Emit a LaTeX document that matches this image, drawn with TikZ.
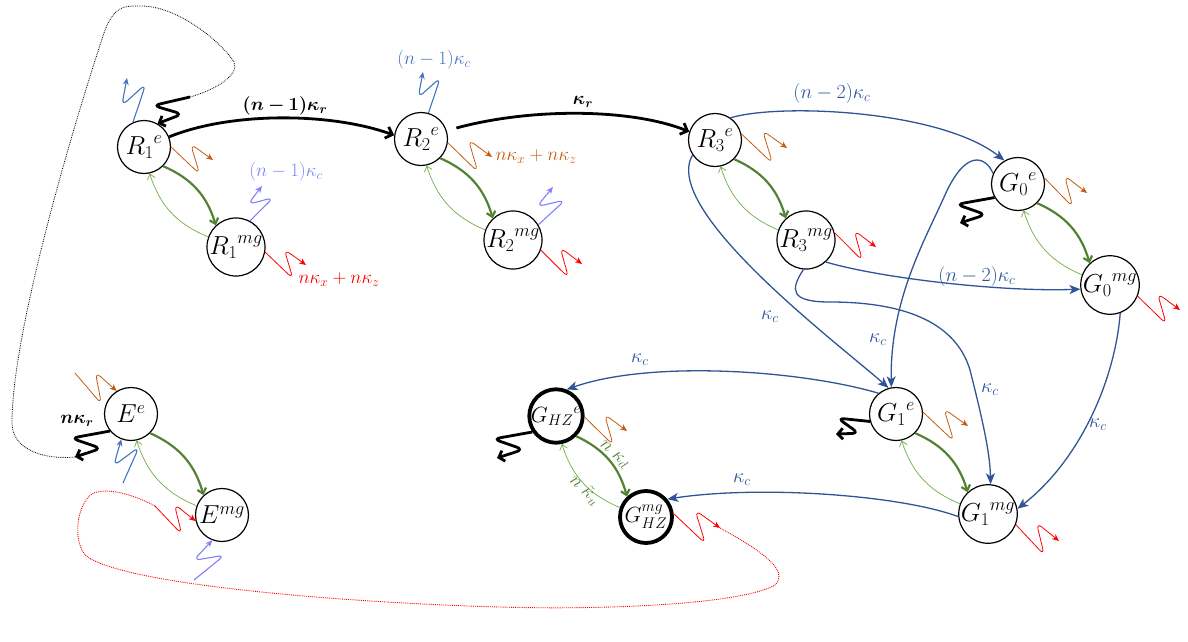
\RequirePackage{fix-cm}
\documentclass[tikz,border=0pt]{standalone}
\usepackage{amsmath,bm}
\usetikzlibrary{arrows.meta,calc}
\definecolor{orng}{HTML}{C55A11}
\definecolor{bluew}{HTML}{4472C4}
\definecolor{lav}{HTML}{8080FF}
\definecolor{dblue}{HTML}{2F5597}
\definecolor{gdark}{HTML}{548235}
\definecolor{glight}{HTML}{70AD47}
\tikzset{
  st/.style={circle,draw,line width=1.2pt,minimum size=53pt,inner sep=0pt,font=\fontsize{26}{30}\selectfont},
  stb/.style={st,line width=3.8pt,minimum size=52pt,font=\fontsize{22}{26}\selectfont},
  zz/.style={to path={-- ($(\tikztostart)!0.81!(\tikztotarget)!2.1!-90:(\tikztotarget)$) -- ($(\tikztostart)!0.4!(\tikztotarget)!0.333!90:(\tikztotarget)$) -- (\tikztotarget)}},
  phot/.style={rounded corners=7pt,line width=0.8pt,-{Stealth[length=7pt,width=6pt]}},
  photb/.style={phot,line width=1.1pt},
  bwig/.style={rounded corners=7pt,line width=2.8pt,-{Straight Barb[length=5pt,width=11pt]}},
  gthick/.style={gdark,line width=2.2pt,-{Straight Barb[length=5pt,width=9pt]}},
  gthin/.style={glight,line width=0.7pt,-{Straight Barb[length=5pt,width=8pt]}},
  bedge/.style={dblue,line width=1.3pt,-{Stealth[length=11pt,width=9pt,inset=3pt]}},
  bkedge/.style={black,line width=2.8pt,-{Straight Barb[length=6pt,width=12pt]}},
  lab/.style={font=\fontsize{20}{24}\selectfont},
  labs/.style={font=\fontsize{19}{23}\selectfont},
  labb/.style={font=\fontsize{18.5}{22}\selectfont},
}
\begin{document}
\begin{tikzpicture}[x=1pt,y=1pt]
\useasboundingbox (0,0) rectangle (1188,-642);
% states
\node[st] (R1e) at (144,-147) {${R_1}^{e}$};
\node[st] (R1m) at (236,-247) {${R_1}^{mg}$};
\node[st] (R2e) at (421,-139) {${R_2}^{e}$};
\node[st] (R2m) at (513,-240) {${R_2}^{mg}$};
\node[st] (R3e) at (715,-140) {${R_3}^{e}$};
\node[st] (R3m) at (806,-240) {${R_3}^{mg}$};
\node[st] (G0e) at (1018,-184) {${G_0}^{e}$};
\node[st] (G0m) at (1110,-285) {${G_0}^{mg}$};
\node[st] (Ee) at (131,-414) {$E^{e}$};
\node[st] (Em) at (222,-515) {$E^{mg}$};
\node[stb] (Ge) at (556,-416) {${G_{HZ}}^{e}$};
\node[stb] (Gm) at (646,-517) {$G^{mg}_{HZ}$};
\node[st] (G1e) at (896,-414) {${G_1}^{e}$};
\node[st] (G1m) at (988,-514) {${G_1}^{mg}$};
% green pairs
\foreach \a/\b in {R1e/R1m,R2e/R2m,R3e/R3m,G0e/G0m,Ee/Em,Ge/Gm,G1e/G1m}{
  \draw[gthick] (\a.-45) to[bend left=25] (\b.133);
  \draw[gthin] (\b.160) to[bend left=25] (\a.-78);
}
% black transfer edges
\draw[bkedge] (R1e.22) .. controls (230,-112) and (330,-112) .. (R2e.172);
\draw[bkedge,shorten <=10pt] (R2e.18) .. controls (530,-108) and (630,-108) .. (R3e.162);
\node[labb] (lR1) at (285,-106) {$\bm{(n-1)\kappa_r}$};
\node[labb] (lR2) at (583,-102) {$\bm{\kappa_r}$};
% blue transfer edges
\draw[bedge] (R3e.55) .. controls (780,-103) and (940,-110) .. (G0e.120);
\draw[bedge] (R3e.214) .. controls (660,-210) and (840,-345) .. (G1e.106);
\draw[bedge] (G0e.157) .. controls (985,-155) and (965,-150) .. (945,-195) .. controls (925,-240) and (890,-300) .. (G1e.100);
\draw[bedge] (R3m.-48) .. controls (880,-278) and (1000,-292) .. (G0m.188);
\draw[bedge] (R3m.-95) .. controls (790,-290) and (790,-302) .. (830,-302) .. controls (900,-302) and (955,-320) .. (970,-370) .. controls (980,-410) and (990,-450) .. (G1m.85);
\draw[bedge] (G0m.-70) .. controls (1115,-380) and (1080,-460) .. (G1m.10);
\draw[bedge] (G1e.130) .. controls (800,-370) and (650,-360) .. (Ge.68);
\draw[bedge] (G1m.185) .. controls (900,-495) and (760,-485) .. (Gm.40);
\node[lab,dblue] (l1) at (832,-93) {$(n-2)\kappa_c$};
\node[lab,dblue] (l2) at (977,-276) {$(n-2)\kappa_c$};
\node[lab,dblue] (l3) at (770,-317) {$\kappa_c$};
\node[lab,dblue] (l4) at (878,-340) {$\kappa_c$};
\node[lab,dblue] (l5) at (990,-390) {$\kappa_c$};
\node[lab,dblue] (l6) at (1098,-425) {$\kappa_c$};
\node[lab,dblue] (l7) at (640,-360) {$\kappa_c$};
\node[lab,dblue] (l8) at (742,-480) {$\kappa_c$};
% GHZ green labels
\node[labs,gdark,rotate=-42,inner sep=0pt] (lgd) at (614,-455) {$n\;\kappa_d$};
\node[labs,gdark,rotate=-43,inner sep=0pt] (lgu) at (585,-490) {$n\;\tilde{\kappa}_u$};
% photon ends
\coordinate (w1) at (127,-78);
\coordinate (w2) at (213,-160);
\coordinate (w3) at (190,-97);
\coordinate (w4) at (262,-186);
\coordinate (w5) at (306,-265);
\coordinate (w6) at (423,-72);
\coordinate (w7) at (492,-157);
\coordinate (w8) at (553,-187);
\coordinate (w9) at (582,-264);
\coordinate (w10) at (787,-148);
\coordinate (w11) at (876,-247);
\coordinate (w12) at (1087,-193);
\coordinate (w13) at (960,-223);
\coordinate (w14) at (1180,-310);
\coordinate (w15) at (75,-373);
\coordinate (w16) at (75,-457);
\coordinate (w17) at (123,-483);
\coordinate (w18) at (155,-506);
\coordinate (w19) at (194,-580);
\coordinate (w20) at (627,-431);
\coordinate (w21) at (497,-458);
\coordinate (w22) at (720,-528);
\coordinate (w23) at (968,-426);
\coordinate (w24) at (836,-434);
\coordinate (w25) at (1059,-541);
% photons
\draw[photb,bluew] (R1e.114) to[zz] (w1);
\draw[phot,orng] (R1e.0) to[zz] (w2);
\draw[bwig] (w3) to[zz] (R1e.60);
\draw[photb,lav] (R1m.62) to[zz] (w4);
\draw[phot,red] (R1m.-10) to[zz] (w5);
\draw[photb,bluew] (R2e.74) to[zz] (w6);
\draw[phot,orng] (R2e.-8) to[zz] (w7);
\draw[photb,lav] (R2m.31) to[zz] (w8);
\draw[phot,red] (R2m.-20) to[zz] (w9);
\draw[phot,orng] (R3e.13) to[zz] (w10);
\draw[phot,red] (R3m.14) to[zz] (w11);
\draw[phot,orng] (G0e.13) to[zz] (w12);
\draw[bwig] (G0e.210) to[zz] (w13);
\draw[phot,red] (G0m.-22) to[zz] (w14);
\draw[phot,orng] (w15) to[zz] (Ee.122);
\draw[bwig] (Ee.219) to[zz] (w16);
\draw[photb,bluew] (w17) to[zz] (Ee.249);
\draw[phot,red] (w18) to[zz] (Em.193);
\draw[photb,lav] (w19) to[zz] (Em.249);
\draw[phot,orng] (Ge.-2) to[zz] (w20);
\draw[bwig] (Ge.214) to[zz] (w21);
\draw[phot,red] (Gm.7) to[zz] (w22);
\draw[phot,orng] (G1e.4) to[zz] (w23);
\draw[bwig] (G1e.196) to[zz] (w24);
\draw[phot,red] (G1m.-21) to[zz] (w25);
% photon labels
\node[labs,lav] (lp1) at (286,-172) {$(n-1)\kappa_c$};
\node[labs,red] (lp2) at (339,-280) {$n\kappa_x+n\kappa_z$};
\node[labs,bluew] (lp3) at (434,-60) {$(n-1)\kappa_c$};
\node[labs,orng] (lp4) at (536,-157) {$n\kappa_x+n\kappa_z$};
\node[labb] (lp5) at (77,-421) {$\bm{n\kappa_r}$};
% dotted loops
\draw[densely dotted,line width=0.8pt] (w16) .. controls (45,-460) and (12,-450) .. (12,-423) .. controls (12,-330) and (75,-120) .. (105,-30) .. controls (115,-5) and (125,-6) .. (140,-6) .. controls (175,-5) and (220,-40) .. (234,-62) .. controls (240,-75) and (215,-90) .. (w3);
\draw[densely dotted,red,line width=0.9pt] (w22) .. controls (760,-550) and (790,-570) .. (775,-585) .. controls (740,-605) and (600,-610) .. (500,-607) .. controls (350,-603) and (120,-585) .. (85,-555) .. controls (70,-535) and (80,-495) .. (97,-492) .. controls (115,-488) and (140,-498) .. (w18);
\end{tikzpicture}
\end{document}
